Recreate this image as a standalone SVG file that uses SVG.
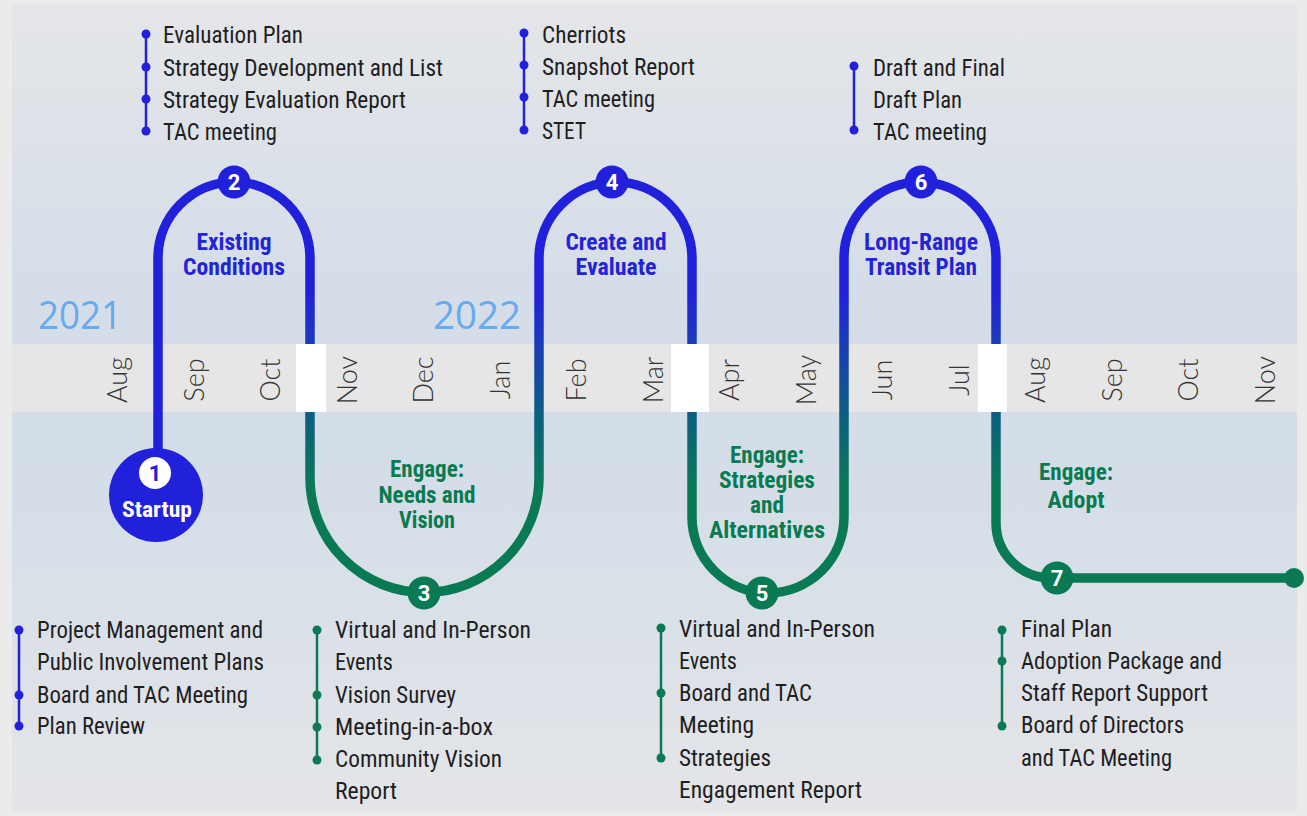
<svg xmlns="http://www.w3.org/2000/svg" width="1307" height="816" viewBox="0 0 1307 816">
<defs>
<linearGradient id="bg" x1="0" y1="0" x2="0" y2="816" gradientUnits="userSpaceOnUse">
<stop offset="0" stop-color="#e5e6e8"/>
<stop offset="0.36" stop-color="#d4dde8"/>
<stop offset="0.56" stop-color="#d3dde8"/>
<stop offset="1" stop-color="#e4e5e8"/>
</linearGradient>
<linearGradient id="route" x1="0" y1="0" x2="0" y2="816" gradientUnits="userSpaceOnUse">
<stop offset="0.36" stop-color="#2121dc"/>
<stop offset="0.42" stop-color="#1a3cb8"/>
<stop offset="0.51" stop-color="#0c5f80"/>
<stop offset="0.6" stop-color="#0a7a55"/>
<stop offset="1" stop-color="#0a7a55"/>
</linearGradient>
<style>
.lst{font-family:"Roboto Condensed","DejaVu Sans Condensed","Liberation Sans Narrow",Roboto,sans-serif;font-stretch:condensed;font-size:24px;fill:#1e1e1e}
.ph{font-family:"Roboto Condensed","DejaVu Sans Condensed","Liberation Sans Narrow",Roboto,sans-serif;font-stretch:condensed;font-size:23px;font-weight:bold;text-anchor:middle}
.pb{fill:#2323d8}
.pg{fill:#0a7a50}
.num{font-family:Roboto,"Liberation Sans",sans-serif;font-size:22px;font-weight:bold;fill:#ffffff;text-anchor:middle}
.mon{font-family:Lato,"Open Sans",sans-serif;font-weight:300;font-size:27px;fill:#333333;text-anchor:middle}
.yr{font-family:"Open Sans","Liberation Sans",sans-serif;font-size:38px;font-weight:500;fill:#66aaf0}
.bl{stroke:#2121dc;stroke-width:2.5;fill:none}
.gl{stroke:#0a7a55;stroke-width:2.5;fill:none}
.bd{fill:#2121dc}
.gd{fill:#0a7a55}
.nb{fill:#2121dc}
.ng{fill:#0a7a55}
</style>
</defs>
<rect x="0" y="0" width="1307" height="816" fill="#ebebeb"/>
<rect x="12" y="4" width="1285" height="808" fill="url(#bg)"/>
<g id="timeline">
<rect x="12" y="344" width="1285" height="68" fill="#e6e6e6"/>
<text class="yr" x="38" y="329" textLength="84" lengthAdjust="spacingAndGlyphs">2021</text>
<text class="yr" x="433" y="329" textLength="88" lengthAdjust="spacingAndGlyphs">2022</text>
<text class="mon" transform="translate(127,380) rotate(-90)">Aug</text>
<text class="mon" transform="translate(204,380) rotate(-90)">Sep</text>
<text class="mon" transform="translate(280,380) rotate(-90)">Oct</text>
<text class="mon" transform="translate(357,380) rotate(-90)">Nov</text>
<text class="mon" transform="translate(433,380) rotate(-90)">Dec</text>
<text class="mon" transform="translate(510,380) rotate(-90)">Jan</text>
<text class="mon" transform="translate(586,380) rotate(-90)">Feb</text>
<text class="mon" transform="translate(663,380) rotate(-90)">Mar</text>
<text class="mon" transform="translate(739,380) rotate(-90)">Apr</text>
<text class="mon" transform="translate(816,380) rotate(-90)">May</text>
<text class="mon" transform="translate(892,380) rotate(-90)">Jun</text>
<text class="mon" transform="translate(969,380) rotate(-90)">Jul</text>
<text class="mon" transform="translate(1045,380) rotate(-90)">Aug</text>
<text class="mon" transform="translate(1122,380) rotate(-90)">Sep</text>
<text class="mon" transform="translate(1198,380) rotate(-90)">Oct</text>
<text class="mon" transform="translate(1275,380) rotate(-90)">Nov</text>
</g>
<g id="connectors" fill="none" stroke-width="9.5">
<path d="M158,460 V258 A76,76 0 0 1 310,258" stroke="#2121dc"/>
<path d="M310,258 V478 A114.5,114.5 0 0 0 539,478 V258.5 A76.5,76.5 0 0 1 692,258.5 V517 A76,76 0 0 0 844,517 V258 A76,76 0 0 1 996,258 V523 A55,55 0 0 0 1051,578 H1294" stroke="url(#route)"/>
</g>
<g id="gaps" fill="#ffffff">
<rect x="296" y="344" width="30" height="68"/>
<rect x="671" y="344" width="38" height="68"/>
<rect x="978" y="344" width="29" height="68"/>
</g>
<g id="node1">
<circle cx="156" cy="495" r="47" class="nb"/>
<circle cx="155" cy="473" r="16" fill="#ffffff"/>
<text class="num" x="155" y="481" style="fill:#2121dc">1</text>
<text class="num" x="157" y="517" textLength="70" lengthAdjust="spacingAndGlyphs" style="font-family:'Roboto Condensed','DejaVu Sans Condensed',Roboto,sans-serif">Startup</text>
</g>
<g id="node2">
<circle cx="234" cy="182" r="16.5" class="nb"/>
<text class="num" x="234" y="190">2</text>
<text class="ph pb" x="234" y="250" textLength="75" lengthAdjust="spacingAndGlyphs">Existing</text>
<text class="ph pb" x="234" y="275" textLength="102" lengthAdjust="spacingAndGlyphs">Conditions</text>
</g>
<g id="node3">
<circle cx="424" cy="593" r="16.5" class="ng"/>
<text class="num" x="424" y="601">3</text>
<text class="ph pg" x="427" y="477" textLength="74" lengthAdjust="spacingAndGlyphs">Engage:</text>
<text class="ph pg" x="427" y="503" textLength="97" lengthAdjust="spacingAndGlyphs">Needs and</text>
<text class="ph pg" x="427" y="528" textLength="56" lengthAdjust="spacingAndGlyphs">Vision</text>
</g>
<g id="node4">
<circle cx="612" cy="182" r="16.5" class="nb"/>
<text class="num" x="612" y="190">4</text>
<text class="ph pb" x="616" y="250" textLength="101" lengthAdjust="spacingAndGlyphs">Create and</text>
<text class="ph pb" x="616" y="275" textLength="81" lengthAdjust="spacingAndGlyphs">Evaluate</text>
</g>
<g id="node5">
<circle cx="762" cy="593" r="16.5" class="ng"/>
<text class="num" x="762" y="601">5</text>
<text class="ph pg" x="767" y="463" textLength="74" lengthAdjust="spacingAndGlyphs">Engage:</text>
<text class="ph pg" x="767" y="488" textLength="96" lengthAdjust="spacingAndGlyphs">Strategies</text>
<text class="ph pg" x="767" y="513" textLength="34" lengthAdjust="spacingAndGlyphs">and</text>
<text class="ph pg" x="767" y="538" textLength="116" lengthAdjust="spacingAndGlyphs">Alternatives</text>
</g>
<g id="node6">
<circle cx="921" cy="182" r="16.5" class="nb"/>
<text class="num" x="921" y="190">6</text>
<text class="ph pb" x="921" y="250" textLength="114" lengthAdjust="spacingAndGlyphs">Long-Range</text>
<text class="ph pb" x="921" y="275" textLength="112" lengthAdjust="spacingAndGlyphs">Transit Plan</text>
</g>
<g id="node7">
<circle cx="1057" cy="578" r="16.5" class="ng"/>
<text class="num" x="1057" y="586">7</text>
<circle cx="1294" cy="578" r="10" class="gd"/>
<text class="ph pg" x="1076" y="480" textLength="74" lengthAdjust="spacingAndGlyphs">Engage:</text>
<text class="ph pg" x="1076" y="508" textLength="57" lengthAdjust="spacingAndGlyphs">Adopt</text>
</g>
<g id="list2">
<line x1="146" y1="34" x2="146" y2="131" class="bl"/>
<circle cx="146" cy="34" r="4.5" class="bd"/><circle cx="146" cy="67" r="4.5" class="bd"/><circle cx="146" cy="99" r="4.5" class="bd"/><circle cx="146" cy="131" r="4.5" class="bd"/>
<text class="lst" x="163" y="43" textLength="140" lengthAdjust="spacingAndGlyphs">Evaluation Plan</text>
<text class="lst" x="163" y="76" textLength="280" lengthAdjust="spacingAndGlyphs">Strategy Development and List</text>
<text class="lst" x="163" y="108" textLength="243" lengthAdjust="spacingAndGlyphs">Strategy Evaluation Report</text>
<text class="lst" x="163" y="140" textLength="114" lengthAdjust="spacingAndGlyphs">TAC meeting</text>
</g>
<g id="list4">
<line x1="524" y1="33" x2="524" y2="130" class="bl"/>
<circle cx="524" cy="33" r="4.5" class="bd"/><circle cx="524" cy="65" r="4.5" class="bd"/><circle cx="524" cy="97" r="4.5" class="bd"/><circle cx="524" cy="130" r="4.5" class="bd"/>
<text class="lst" x="542" y="43" textLength="84" lengthAdjust="spacingAndGlyphs">Cherriots</text>
<text class="lst" x="542" y="75" textLength="153" lengthAdjust="spacingAndGlyphs">Snapshot Report</text>
<text class="lst" x="542" y="107" textLength="113" lengthAdjust="spacingAndGlyphs">TAC meeting</text>
<text class="lst" x="542" y="139" textLength="44" lengthAdjust="spacingAndGlyphs">STET</text>
</g>
<g id="list6">
<line x1="854" y1="66" x2="854" y2="130" class="bl"/>
<circle cx="854" cy="66" r="4.5" class="bd"/><circle cx="854" cy="130" r="4.5" class="bd"/>
<text class="lst" x="873" y="76" textLength="132" lengthAdjust="spacingAndGlyphs">Draft and Final</text>
<text class="lst" x="873" y="108" textLength="89" lengthAdjust="spacingAndGlyphs">Draft Plan</text>
<text class="lst" x="873" y="140" textLength="114" lengthAdjust="spacingAndGlyphs">TAC meeting</text>
</g>
<g id="list1">
<line x1="19" y1="630" x2="19" y2="726" class="bl"/>
<circle cx="19" cy="630" r="4.5" class="bd"/><circle cx="19" cy="695" r="4.5" class="bd"/><circle cx="19" cy="726" r="4.5" class="bd"/>
<text class="lst" x="37" y="638" textLength="226" lengthAdjust="spacingAndGlyphs">Project Management and</text>
<text class="lst" x="37" y="670" textLength="227" lengthAdjust="spacingAndGlyphs">Public Involvement Plans</text>
<text class="lst" x="37" y="703" textLength="211" lengthAdjust="spacingAndGlyphs">Board and TAC Meeting</text>
<text class="lst" x="37" y="734" textLength="108" lengthAdjust="spacingAndGlyphs">Plan Review</text>
</g>
<g id="list3">
<line x1="317" y1="630" x2="317" y2="760" class="gl"/>
<circle cx="317" cy="630" r="4.5" class="gd"/><circle cx="317" cy="695" r="4.5" class="gd"/><circle cx="317" cy="727" r="4.5" class="gd"/><circle cx="317" cy="760" r="4.5" class="gd"/>
<text class="lst" x="335" y="638" textLength="196" lengthAdjust="spacingAndGlyphs">Virtual and In-Person</text>
<text class="lst" x="335" y="670" textLength="58" lengthAdjust="spacingAndGlyphs">Events</text>
<text class="lst" x="335" y="703" textLength="121" lengthAdjust="spacingAndGlyphs">Vision Survey</text>
<text class="lst" x="335" y="735" textLength="158" lengthAdjust="spacingAndGlyphs">Meeting-in-a-box</text>
<text class="lst" x="335" y="767" textLength="167" lengthAdjust="spacingAndGlyphs">Community Vision</text>
<text class="lst" x="335" y="799" textLength="62" lengthAdjust="spacingAndGlyphs">Report</text>
</g>
<g id="list5">
<line x1="661" y1="628" x2="661" y2="758" class="gl"/>
<circle cx="661" cy="628" r="4.5" class="gd"/><circle cx="661" cy="693" r="4.5" class="gd"/><circle cx="661" cy="758" r="4.5" class="gd"/>
<text class="lst" x="679" y="637" textLength="196" lengthAdjust="spacingAndGlyphs">Virtual and In-Person</text>
<text class="lst" x="679" y="669" textLength="58" lengthAdjust="spacingAndGlyphs">Events</text>
<text class="lst" x="679" y="701" textLength="133" lengthAdjust="spacingAndGlyphs">Board and TAC</text>
<text class="lst" x="679" y="733" textLength="75" lengthAdjust="spacingAndGlyphs">Meeting</text>
<text class="lst" x="679" y="766" textLength="92" lengthAdjust="spacingAndGlyphs">Strategies</text>
<text class="lst" x="679" y="798" textLength="183" lengthAdjust="spacingAndGlyphs">Engagement Report</text>
</g>
<g id="list7">
<line x1="1002" y1="630" x2="1002" y2="726" class="gl"/>
<circle cx="1002" cy="630" r="4.5" class="gd"/><circle cx="1002" cy="661" r="4.5" class="gd"/><circle cx="1002" cy="726" r="4.5" class="gd"/>
<text class="lst" x="1021" y="637" textLength="91" lengthAdjust="spacingAndGlyphs">Final Plan</text>
<text class="lst" x="1021" y="669" textLength="201" lengthAdjust="spacingAndGlyphs">Adoption Package and</text>
<text class="lst" x="1021" y="701" textLength="187" lengthAdjust="spacingAndGlyphs">Staff Report Support</text>
<text class="lst" x="1021" y="733" textLength="163" lengthAdjust="spacingAndGlyphs">Board of Directors</text>
<text class="lst" x="1021" y="766" textLength="151" lengthAdjust="spacingAndGlyphs">and TAC Meeting</text>
</g>
</svg>
